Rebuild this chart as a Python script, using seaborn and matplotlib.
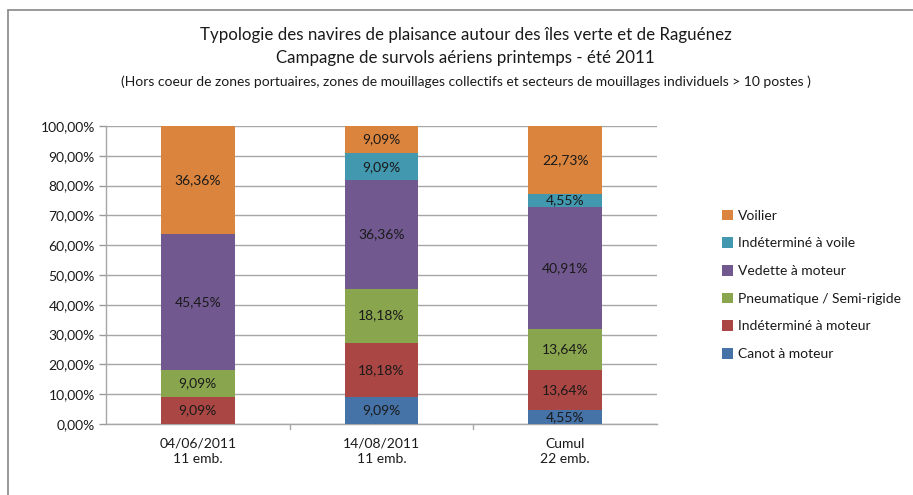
import matplotlib
matplotlib.use("Agg")
import matplotlib.pyplot as plt
from matplotlib.patches import Patch
from matplotlib.lines import Line2D
import numpy as np
import seaborn as sns

categories = ["04/06/2011\n11 emb.", "14/08/2011\n11 emb.", "Cumul\n22 emb."]
series_names = ["Canot à moteur", "Indéterminé à moteur", "Pneumatique / Semi-rigide",
                "Vedette à moteur", "Indéterminé à voile", "Voilier"]
canot = [0.0, 9.09, 4.55]
indet_moteur = [9.09, 18.18, 13.64]
pneumatique = [9.09, 18.18, 13.64]
vedette = [45.45, 36.36, 40.91]
indet_voile = [0.0, 9.09, 4.55]
voilier = [36.36, 9.09, 22.73]
colors = ["#4572A7", "#AA4643", "#89A54E", "#71588F", "#4198AF", "#DB843D"]

series = [canot, indet_moteur, pneumatique, vedette, indet_voile, voilier]

sns.set_theme(style="white")
plt.rcParams["font.family"] = ["Lato", "DejaVu Sans"]

fig = plt.figure(figsize=(9.13, 4.95), dpi=100)
ax = fig.add_axes([106 / 913, 1 - 424 / 495, (657 - 106) / 913, (424 - 126) / 495])

vals = np.array(series)
cum = np.cumsum(vals, axis=0)

# draw cumulative totals from the top down so each layer covers the next
for i in range(len(series) - 1, -1, -1):
    sns.barplot(x=list(range(len(categories))), y=cum[i], color=colors[i],
                width=0.4, saturation=1, ax=ax, zorder=3, linewidth=0)

for i, s in enumerate(series):
    for j, v in enumerate(s):
        if v > 0:
            y = cum[i][j] - v / 2
            ax.text(j, y, f"{v:.2f}%".replace(".", ","), ha="center", va="center",
                    fontsize=10, color="#1a1a1a", zorder=5)

ax.set_xlim(-0.5, len(categories) - 0.5)
ax.set_ylim(0, 100)
ax.set_yticks(np.arange(0, 101, 10))
ax.set_yticklabels([f"{t:.2f}%".replace(".", ",") for t in np.arange(0, 101, 10)],
                   fontsize=10, color="#1a1a1a")
ax.set_xticks(range(len(categories)))
ax.set_xticklabels(categories, fontsize=10, color="#1a1a1a", linespacing=1.3)
ax.tick_params(axis="x", length=0, pad=10)
ax.tick_params(axis="y", length=5, width=1, color="#999999", left=True, pad=3)
ax.set_xlabel("")
ax.set_ylabel("")
ax.grid(axis="y", color="#A6A6A6", linewidth=1, zorder=0)
ax.set_axisbelow(True)
for side in ["top", "right"]:
    ax.spines[side].set_visible(False)
for side in ["left", "bottom"]:
    ax.spines[side].set_color("#A6A6A6")
    ax.spines[side].set_linewidth(1)

# category separators below the x axis
for b in [0.5, 1.5]:
    ax.add_line(Line2D([b, b], [0, -1.8], color="#A6A6A6", linewidth=1,
                       clip_on=False, zorder=4))

cx = 0.5 * (200 + 731) / 913
fig.text(cx, 1 - 35 / 495,
         "Typologie des navires de plaisance autour des îles verte et de Raguénez",
         ha="center", va="center", fontsize=12.2, color="#1a1a1a")
fig.text(cx, 1 - 58 / 495,
         "Campagne de survols aériens printemps - été 2011",
         ha="center", va="center", fontsize=12.2, color="#1a1a1a")
fig.text(cx, 1 - 82 / 495,
         "(Hors coeur de zones portuaires, zones de mouillages collectifs et secteurs de mouillages individuels > 10 postes )",
         ha="center", va="center", fontsize=10, color="#1a1a1a")

handles = [Patch(facecolor=colors[i], edgecolor="none") for i in range(len(series) - 1, -1, -1)]
labels = [series_names[i] for i in range(len(series) - 1, -1, -1)]
fig.legend(handles, labels, loc="upper left", bbox_to_anchor=(709 / 913, 1 - 197 / 495),
           frameon=False, fontsize=10, handlelength=0.8, handleheight=0.8,
           handletextpad=0.4, labelspacing=1.12, labelcolor="#1a1a1a")

# outer chart frame
fig.add_artist(Line2D([8 / 913, 8 / 913], [0, 1 - 10 / 495], color="#888888",
                      linewidth=1.2, transform=fig.transFigure))
fig.add_artist(Line2D([8 / 913, 1], [1 - 10 / 495, 1 - 10 / 495], color="#888888",
                      linewidth=1.2, transform=fig.transFigure))

fig.savefig("out.png", dpi=100)
